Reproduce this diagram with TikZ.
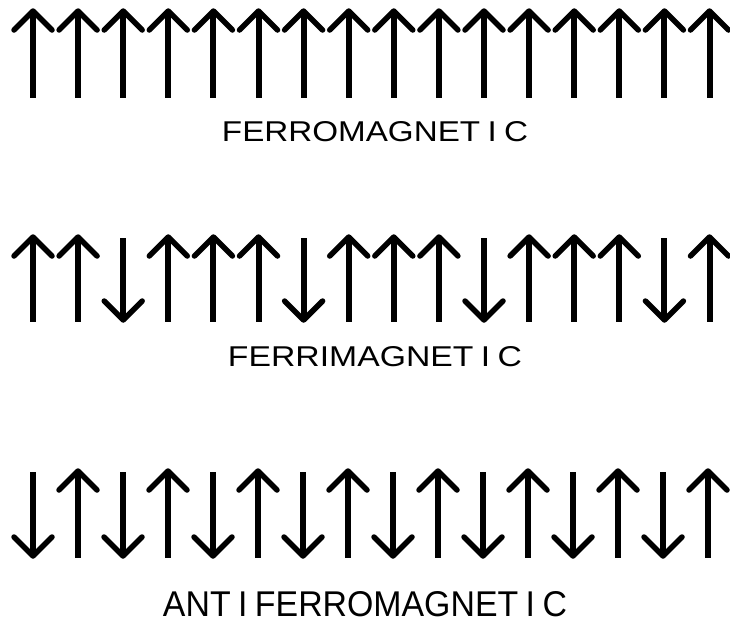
\documentclass[tikz,border=0pt]{standalone}
\usepackage{fontspec}
\setmainfont{Liberation Sans}
\tikzset{
  shaft/.style={line width=6pt, line cap=butt},
  spinhead/.style={line width=5.5pt, line cap=round, line join=round},
  lbl/.style={inner sep=0pt, anchor=center}
}
\newcommand{\upspinarrow}[3]{%
  \draw[shaft] (#1,#2+3) -- (#1,#3);
  \draw[spinhead] (#1-19,#2+19) -- (#1,#2) -- (#1+19,#2+19);}
\newcommand{\downspinarrow}[3]{%
  \draw[shaft] (#1,#2) -- (#1,#3-3);
  \draw[spinhead] (#1-19,#3-19) -- (#1,#3) -- (#1+19,#3-19);}
\begin{document}
\begin{tikzpicture}[x=1pt,y=-1pt]
\useasboundingbox (0,0) rectangle (730,625);
% row 1: ferromagnetic
\foreach \i in {0,...,15}{
  \pgfmathsetmacro\x{33+45.1*\i}
  \upspinarrow{\x}{11}{98}
}
\node[lbl] (ferro) at (375,132) {\resizebox{306pt}{20pt}{FERROMAGNET\hspace{0.22em}I\hspace{0.22em}C}};
% row 2: ferrimagnetic
\foreach \i in {0,1,3,4,5,7,8,9,11,12,13,15}{
  \pgfmathsetmacro\x{33+45.1*\i}
  \upspinarrow{\x}{237}{322}
}
\foreach \i in {2,6,10,14}{
  \pgfmathsetmacro\x{33+45.1*\i}
  \downspinarrow{\x}{238}{320}
}
\node[lbl] (ferri) at (375,357) {\resizebox{294pt}{20pt}{FERRIMAGNET\hspace{0.22em}I\hspace{0.22em}C}};
% row 3: antiferromagnetic
\foreach \i in {1,3,5,7,9,11,13,15}{
  \pgfmathsetmacro\x{33+45*\i}
  \upspinarrow{\x}{471}{558}
}
\foreach \i in {0,2,4,6,8,10,12,14}{
  \pgfmathsetmacro\x{33+45*\i}
  \downspinarrow{\x}{472}{556}
}
\node[lbl] (anti) at (365,604.5) {\resizebox{404pt}{25pt}{ANT\hspace{0.22em}I\hspace{0.22em}FERROMAGNET\hspace{0.22em}I\hspace{0.22em}C}};
\end{tikzpicture}
\end{document}
